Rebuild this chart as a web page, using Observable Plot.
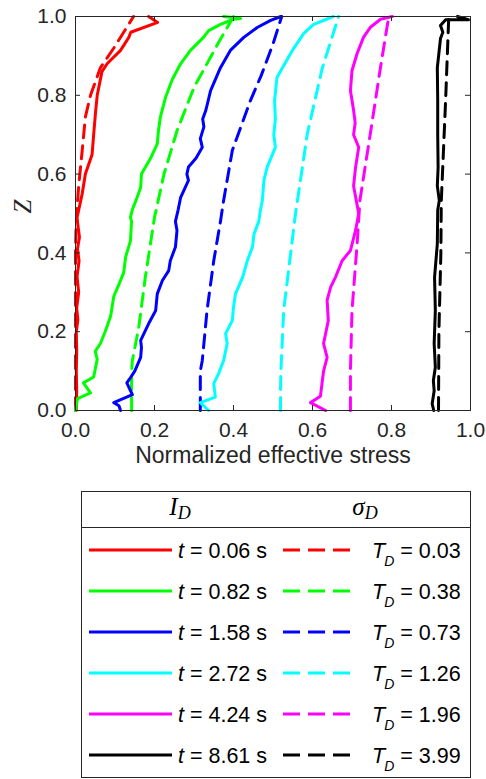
<!DOCTYPE html>
<html>
<head>
<meta charset="utf-8">
<script src="https://cdn.jsdelivr.net/npm/d3@7"></script>
<script src="https://cdn.jsdelivr.net/npm/@observablehq/plot@0.6"></script>
<style>
  html, body { margin: 0; padding: 0; background: #fff; }
  svg { display: block; }
</style>
</head>
<body>
<div id="chart"></div>
<script>
// ---- Data: [normalized effective stress, Z] ----
const xTicks = [0, 0.2, 0.4, 0.6, 0.8, 1.0];
const yTicks = [0, 0.2, 0.4, 0.6, 0.8, 1.0];

const colors = ["#FF0000", "#00FF00", "#0000FF", "#00FFFF", "#FF00FF", "#000000"];
const solidLabels = ["0.06", "0.82", "1.58", "2.72", "4.24", "8.61"];
const dashedLabels = ["0.03", "0.38", "0.73", "1.26", "1.96", "3.99"];

const solid_t006 = [[0.002,0],[0.003,0.05],[0.002,0.1],[0.003,0.15],[0.002,0.2],[0.006,0.23],[0.003,0.26],[0.008,0.3],[0.004,0.34],[0.009,0.38],[0.005,0.41],[0.01,0.44],[0.006,0.47],[0.004,0.49],[0.017,0.55],[0.025,0.6],[0.042,0.65],[0.046,0.7],[0.051,0.76],[0.055,0.8],[0.067,0.86],[0.08,0.88],[0.114,0.914],[0.135,0.947],[0.14,0.96],[0.208,0.985],[0.185,1.0]];
const dashed_T003 = [[0,0],[0,0.2],[0,0.4],[0.001,0.45],[0.003,0.5],[0.008,0.57],[0.017,0.66],[0.025,0.745],[0.038,0.8],[0.063,0.87],[0.097,0.92],[0.122,0.96],[0.147,1.0]];

const solid_t082 = [[0.0,0],[0.005,0.03],[0.038,0.045],[0.02,0.07],[0.046,0.085],[0.055,0.13],[0.05,0.15],[0.063,0.17],[0.075,0.2],[0.089,0.24],[0.097,0.29],[0.11,0.32],[0.122,0.35],[0.127,0.39],[0.139,0.43],[0.142,0.48],[0.139,0.49],[0.144,0.51],[0.152,0.53],[0.165,0.566],[0.167,0.6],[0.19,0.64],[0.207,0.677],[0.21,0.71],[0.215,0.745],[0.228,0.795],[0.245,0.84],[0.266,0.88],[0.291,0.914],[0.324,0.947],[0.337,0.964],[0.367,0.98],[0.40,0.993],[0.418,0.995],[0.375,1.0]];
const dashed_T038 = [[0.142,0],[0.142,0.1],[0.144,0.127],[0.16,0.21],[0.177,0.34],[0.2,0.49],[0.224,0.6],[0.257,0.71],[0.3,0.82],[0.36,0.93],[0.40,1.0]];

const solid_t158 = [[0.114,0],[0.11,0.012],[0.097,0.02],[0.144,0.04],[0.13,0.07],[0.137,0.08],[0.15,0.1],[0.165,0.135],[0.167,0.16],[0.165,0.178],[0.185,0.22],[0.203,0.254],[0.207,0.296],[0.22,0.33],[0.236,0.355],[0.24,0.38],[0.253,0.415],[0.257,0.457],[0.253,0.48],[0.26,0.51],[0.266,0.54],[0.286,0.584],[0.282,0.6],[0.286,0.618],[0.305,0.64],[0.321,0.668],[0.316,0.69],[0.325,0.72],[0.322,0.74],[0.33,0.762],[0.342,0.812],[0.367,0.87],[0.392,0.914],[0.426,0.947],[0.46,0.972],[0.494,0.99],[0.52,1.0]];
const dashed_T073 = [[0.316,0],[0.316,0.1],[0.321,0.127],[0.333,0.254],[0.35,0.38],[0.367,0.48],[0.375,0.533],[0.397,0.66],[0.443,0.787],[0.47,0.85],[0.5,0.93],[0.522,1.0]];

const solid_t272 = [[0.337,0],[0.316,0.02],[0.354,0.034],[0.35,0.068],[0.362,0.093],[0.375,0.127],[0.384,0.17],[0.38,0.195],[0.397,0.228],[0.4,0.262],[0.405,0.296],[0.423,0.338],[0.435,0.38],[0.448,0.415],[0.452,0.448],[0.464,0.48],[0.468,0.508],[0.473,0.533],[0.477,0.584],[0.485,0.617],[0.506,0.668],[0.502,0.7],[0.506,0.74],[0.504,0.787],[0.51,0.845],[0.524,0.87],[0.549,0.914],[0.578,0.957],[0.603,0.98],[0.653,1.0]];
const dashed_T126 = [[0.519,0],[0.519,0.05],[0.52,0.1],[0.527,0.254],[0.557,0.5],[0.587,0.703],[0.625,0.87],[0.666,1.0]];

const solid_t424 = [[0.633,0],[0.595,0.02],[0.62,0.036],[0.624,0.068],[0.628,0.1],[0.637,0.135],[0.628,0.17],[0.64,0.228],[0.637,0.28],[0.646,0.313],[0.658,0.338],[0.675,0.38],[0.696,0.406],[0.709,0.457],[0.717,0.5],[0.704,0.57],[0.709,0.617],[0.717,0.668],[0.704,0.7],[0.708,0.73],[0.704,0.762],[0.696,0.812],[0.70,0.863],[0.713,0.906],[0.729,0.947],[0.746,0.972],[0.772,0.993],[0.802,1.0]];
const dashed_T196 = [[0.696,0],[0.696,0.1],[0.70,0.254],[0.713,0.423],[0.72,0.533],[0.746,0.7],[0.772,0.87],[0.793,1.0]];

const solid_t861 = [[0.907,0],[0.903,0.017],[0.908,0.05],[0.906,0.076],[0.911,0.11],[0.908,0.17],[0.911,0.254],[0.909,0.338],[0.916,0.423],[0.917,0.508],[0.921,0.533],[0.916,0.57],[0.918,0.617],[0.917,0.7],[0.917,0.787],[0.916,0.87],[0.924,0.944],[0.93,0.96],[0.924,0.977],[0.937,0.992],[0.995,0.992],[0.967,1.0]];
const dashed_T399 = [[0.919,0],[0.92,0.2],[0.925,0.4],[0.926,0.53],[0.937,0.787],[0.945,1.0]];

const solidSeries = [solid_t006, solid_t082, solid_t158, solid_t272, solid_t424, solid_t861];
const dashedSeries = [dashed_T003, dashed_T038, dashed_T073, dashed_T126, dashed_T196, dashed_T399];

// ---- Plot ----
const W = 486, H = 478;
const mT = 16, mB = 68, mL = 75, mR = 16;
const plotH = H - mT - mB, plotW = W - mL - mR;
const tickLen = 5;
const axisColor = "#262626";
const sans = "'Liberation Sans', Arial, Helvetica, sans-serif";
const serif = "'Liberation Serif', 'Times New Roman', serif";

const lineMarks = [];
colors.forEach((c, i) => {
  lineMarks.push(Plot.line(solidSeries[i], {x: d => d[0], y: d => d[1], stroke: c, strokeWidth: 3}));
  lineMarks.push(Plot.line(dashedSeries[i], {x: d => d[0], y: d => d[1], stroke: c, strokeWidth: 3, strokeDasharray: "13,8"}));
});

const chart = Plot.plot({
  width: W, height: H,
  marginTop: mT, marginBottom: mB, marginLeft: mL, marginRight: mR,
  style: {fontFamily: sans, fontSize: "21px", color: axisColor, background: "white", overflow: "visible"},
  x: {domain: [0, 1], label: null},
  y: {domain: [0, 1], label: null},
  marks: [
    ...lineMarks,
    Plot.frame({stroke: axisColor, strokeWidth: 1}),
    Plot.axisX(xTicks, {tickSize: 0, tickPadding: 12, tickFormat: d => d.toFixed(1), label: null, fill: axisColor}),
    Plot.axisY(yTicks, {tickSize: 0, tickPadding: 9, tickFormat: d => d.toFixed(1), label: null, fill: axisColor}),
    Plot.tickX(xTicks, {x: d => d, insetTop: plotH - tickLen, stroke: axisColor}),
    Plot.tickX(xTicks, {x: d => d, insetBottom: plotH - tickLen, stroke: axisColor}),
    Plot.tickY(yTicks, {y: d => d, insetRight: plotW - tickLen, stroke: axisColor}),
    Plot.tickY(yTicks, {y: d => d, insetLeft: plotW - tickLen, stroke: axisColor}),
    Plot.text(["Normalized effective stress"], {frameAnchor: "bottom", dy: 52, text: d => d, fontSize: 23, fill: axisColor}),
    Plot.text(["Z"], {frameAnchor: "left", dx: -53, rotate: -90, text: d => d, fontSize: 25, fontStyle: "italic", fontFamily: serif, fill: axisColor})
  ]
});
document.getElementById("chart").appendChild(chart);

// ---- Legend ----
const LH = 779 - H;
const leg = d3.create("svg").attr("width", W).attr("height", LH)
  .style("font-family", sans).style("background", "white");
const bx0 = 81.5, bx1 = 470.5, by0 = 13.5, by1 = 299.5, divY = 49.5;
leg.append("rect").attr("x", bx0).attr("y", by0).attr("width", bx1 - bx0).attr("height", by1 - by0)
  .attr("fill", "white").attr("stroke", axisColor).attr("stroke-width", 1);
leg.append("line").attr("x1", bx0).attr("x2", bx1).attr("y1", divY).attr("y2", divY)
  .attr("stroke", axisColor).attr("stroke-width", 1);

// headers
function header(cx, main) {
  const t = leg.append("text").attr("x", cx).attr("y", 37).attr("text-anchor", "middle")
    .attr("font-family", serif).attr("font-style", "italic").attr("font-size", 25).attr("fill", "#000");
  t.append("tspan").text(main);
  t.append("tspan").attr("font-size", 18).attr("dy", 4).text("D");
}
header(180, "I");
header(365, "σ");

colors.forEach((c, i) => {
  const y = 72 + i * 41;
  leg.append("line").attr("x1", 89).attr("x2", 172).attr("y1", y).attr("y2", y)
    .attr("stroke", c).attr("stroke-width", 3);
  const t1 = leg.append("text").attr("x", 178).attr("y", y).attr("dy", "0.36em")
    .attr("font-size", 21.5).attr("fill", "#000");
  t1.append("tspan").attr("font-style", "italic").text("t");
  t1.append("tspan").text(" = " + solidLabels[i] + " s");

  leg.append("line").attr("x1", 283).attr("x2", 350).attr("y1", y).attr("y2", y)
    .attr("stroke", c).attr("stroke-width", 3).attr("stroke-dasharray", "17,8");
  const t2 = leg.append("text").attr("x", 372).attr("y", y).attr("dy", "0.36em")
    .attr("font-size", 21.5).attr("fill", "#000");
  t2.append("tspan").attr("font-style", "italic").text("T");
  t2.append("tspan").attr("font-style", "italic").attr("font-size", 14).attr("dy", 8).attr("dx", -1).text("D");
  t2.append("tspan").attr("dy", -8).text(" = " + dashedLabels[i]);
});
document.getElementById("chart").appendChild(leg.node());
</script>
</body>
</html>
